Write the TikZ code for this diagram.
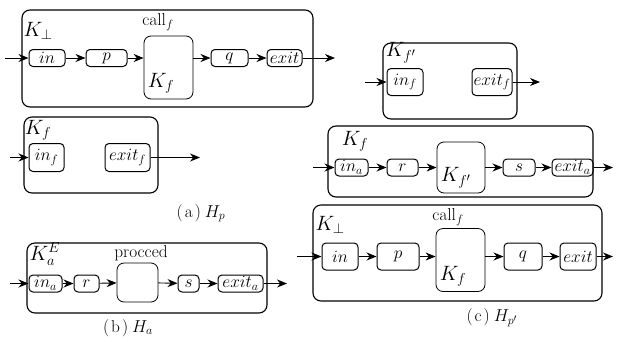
\documentclass[tikz,border=0pt]{standalone}
\usepackage{tikz}
\usetikzlibrary{arrows.meta, calc, positioning}

\begin{document}
\begin{tikzpicture}[
    x=1pt, y=-1pt,
    >={Stealth[length=10pt,width=8pt]},
    line width=0.9pt,
    every node/.style={font=\LARGE},
    panel/.style={rectangle, draw, rounded corners=8pt, line width=1.1pt, inner sep=0pt},
    blk/.style={rectangle, draw, rounded corners=4pt, line width=1pt, inner sep=0pt, minimum height=17pt},
    tall/.style={blk, minimum height=27pt},
    bigblk/.style={rectangle, draw, rounded corners=7pt, line width=0.8pt, inner sep=0pt},
    lbl/.style={inner sep=0pt, font=\huge},
    captxt/.style={inner sep=0pt, font=\LARGE}
]
    \useasboundingbox (0,0) rectangle (621,338);

    % Panel (a), top ---------------------------------------------

    \node[panel, minimum width=291pt, minimum height=97pt] (a1) at (167.5,58.5) {};
    \node[lbl] (a1K) at (38,31) {$K_\perp$};
    \node[inner sep=0pt] (a1call) at (158,22) {$\mathrm{call}_f$};
    \node[blk, minimum width=36pt] (a1in) at (47,58) {$in$};
    \node[blk, minimum width=41pt] (a1p) at (106.5,58) {$p$};
    \node[bigblk, minimum width=49pt, minimum height=63pt] (a1f) at (168.5,67.5) {};
    \node[lbl] (a1fK) at (161,83) {$K_f$};
    \node[blk, minimum width=37pt] (a1q) at (229.5,58) {$q$};
    \node[blk, minimum width=35pt] (a1exit) at (284.5,58) {$exit$};
    \coordinate (a1s) at (5,58);
    \coordinate (a1e) at (335,58);

    \draw[->] (a1s) -- (a1in.west);
    \draw[->] (a1in) -- (a1p);
    \draw[->] (a1p.east) -- (a1p.east -| a1f.west);
    \draw[->] (a1f.east |- a1q.west) -- (a1q.west);
    \draw[->] (a1q) -- (a1exit);
    \draw[->] (a1exit.east) -- (a1e);

    % Panel (a), bottom ------------------------------------------

    \node[panel, minimum width=134pt, minimum height=76pt] (a2) at (91,155) {};
    \node[lbl] (a2K) at (38,130) {$K_f$};
    \node[blk, minimum width=35pt, minimum height=28pt] (a2in) at (46.5,157.5) {$in_f$};
    \node[blk, minimum width=45pt, minimum height=28pt] (a2exit) at (127.5,157.5) {$exit_f$};
    \coordinate (a2s) at (10,157.5);
    \coordinate (a2e) at (200,157.5);

    \draw[->] (a2s) -- (a2in.west);
    \draw[->] (a2exit.east) -- (a2e);

    \node[captxt] (capa) at (201,213) {(\hspace{2pt}a\hspace{2pt})\hspace{4pt}$H_p$};

    % Panel (b) --------------------------------------------------

    \node[panel, minimum width=240pt, minimum height=70pt] (b) at (147,278) {};
    \node[lbl] (bK) at (45,254) {$K_a^E$};
    \node[inner sep=0pt] (bproc) at (141,253) {procced};
    \node[blk, minimum width=33pt] (bin) at (45.5,283.5) {$in_a$};
    \node[blk, minimum width=25pt] (br) at (86.5,283.5) {$r$};
    \node[bigblk, minimum width=41pt, minimum height=39pt] (bpr) at (137.5,282.5) {};
    \node[blk, minimum width=21pt] (bs) at (188.5,283.5) {$s$};
    \node[blk, minimum width=45pt] (bexit) at (240.5,283.5) {$exit_a$};
    \coordinate (bst) at (10,283.5);
    \coordinate (be) at (287,283.5);

    \draw[->] (bst) -- (bin.west);
    \draw[->] (bin) -- (br);
    \draw[->] (br) -- (bpr);
    \draw[->] (bpr) -- (bs);
    \draw[->] (bs) -- (bexit);
    \draw[->] (bexit.east) -- (be);

    \node[captxt] (capb) at (128,328) {(\hspace{2pt}b\hspace{2pt})\hspace{4pt}$H_a$};

    % Panel (c), top ---------------------------------------------

    \node[panel, minimum width=134pt, minimum height=76pt] (c1) at (450,81) {};
    \node[lbl] (c1K) at (401,53) {$K_{f'}$};
    \node[tall, minimum width=36pt] (c1in) at (405,82) {$in_f$};
    \node[tall, minimum width=40pt] (c1exit) at (492,82) {$exit_f$};
    \coordinate (c1s) at (365,82);
    \coordinate (c1e) at (540,82);

    \draw[->] (c1s) -- (c1in.west);
    \draw[->] (c1exit.east) -- (c1e);

    % Panel (c), middle ------------------------------------------

    \node[panel, minimum width=265pt, minimum height=71pt] (c2) at (460.5,161.5) {};
    \node[lbl] (c2K) at (355,141) {$K_f$};
    \node[blk, minimum width=33pt] (c2in) at (351.5,167.5) {$in_a$};
    \node[blk, minimum width=31pt] (c2r) at (402.5,167.5) {$r$};
    \node[bigblk, minimum width=48pt, minimum height=51pt] (c2f) at (461,167.5) {};
    \node[lbl] (c2fK) at (456,178) {$K_{f'}$};
    \node[blk, minimum width=32pt] (c2s) at (519,167.5) {$s$};
    \node[blk, minimum width=41pt] (c2exit) at (572.5,167.5) {$exit_a$};
    \coordinate (c2st) at (313,167.5);
    \coordinate (c2e) at (613,167.5);

    \draw[->] (c2st) -- (c2in.west);
    \draw[->] (c2in) -- (c2r);
    \draw[->] (c2r) -- (c2f);
    \draw[->] (c2f) -- (c2s);
    \draw[->] (c2s) -- (c2exit);
    \draw[->] (c2exit.east) -- (c2e);

    % Panel (c), bottom ------------------------------------------

    \node[panel, minimum width=289pt, minimum height=96pt] (c3) at (457.5,253) {};
    \node[lbl] (c3K) at (330,225) {$K_\perp$};
    \node[inner sep=0pt] (c3call) at (448,217) {$\mathrm{call}_f$};
    \node[tall, minimum width=36pt] (c3in) at (340,256.5) {$in$};
    \node[tall, minimum width=42pt] (c3p) at (398,256.5) {$p$};
    \node[bigblk, minimum width=49pt, minimum height=63pt] (c3f) at (460.5,260) {};
    \node[lbl] (c3fK) at (453,276) {$K_f$};
    \node[tall, minimum width=38pt] (c3q) at (523,256.5) {$q$};
    \node[tall, minimum width=36pt] (c3exit) at (578,256.5) {$exit$};
    \coordinate (c3s) at (297,256.5);
    \coordinate (c3e) at (613,256.5);

    \draw[->] (c3s) -- (c3in.west);
    \draw[->] (c3in) -- (c3p);
    \draw[->] (c3p.east) -- (c3p.east -| c3f.west);
    \draw[->] (c3f.east |- c3q.west) -- (c3q.west);
    \draw[->] (c3q) -- (c3exit);
    \draw[->] (c3exit.east) -- (c3e);

    \node[captxt] (capc) at (492,318) {(\hspace{2pt}c\hspace{2pt})\hspace{4pt}$H_{p'}$};

\end{tikzpicture}
\end{document}
